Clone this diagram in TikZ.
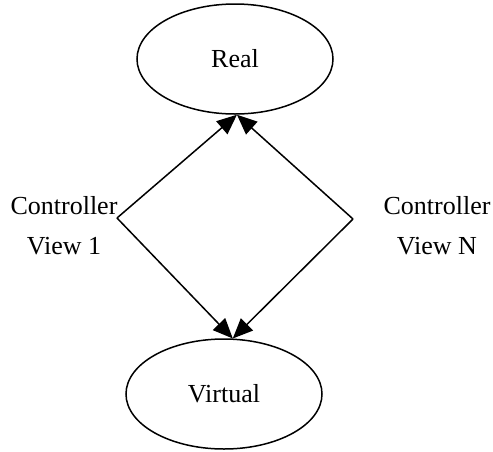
\documentclass[tikz,border=0pt]{standalone}
\usepackage{fontspec}
\setmainfont{Liberation Serif}
\usetikzlibrary{shapes.geometric,arrows.meta}
\begin{document}
\begin{tikzpicture}[x=1pt,y=-1pt,
  state/.style={ellipse,draw,line width=1.5pt,minimum width=196pt,minimum height=110pt,inner sep=0pt},
  lbl/.style={align=center,inner sep=0pt,anchor=base},
  conn/.style={line width=1.5pt,-{Triangle[length=20pt,width=17pt]}},
  every node/.style={font=\fontsize{26}{40}\selectfont}]
  \useasboundingbox (0,0) rectangle (493,451);
  \node[state] (real) at (235,59) {Real};
  \node[state] (virtual) at (224,394) {Virtual};
  \coordinate (lv) at (117,218);
  \coordinate (rv) at (353,219);
  % the base anchor sits on the last line of a two-line label
  \node[lbl] (cv1) at (64,254) {Controller\\View 1};
  \node[lbl] (cvn) at (437,254) {Controller\\View N};
  \draw[conn] (lv) -- (real.272);
  \draw[conn] (rv) -- (real.272);
  \draw[conn] (lv) -- (virtual.81);
  \draw[conn] (rv) -- (virtual.81);
\end{tikzpicture}
\end{document}
